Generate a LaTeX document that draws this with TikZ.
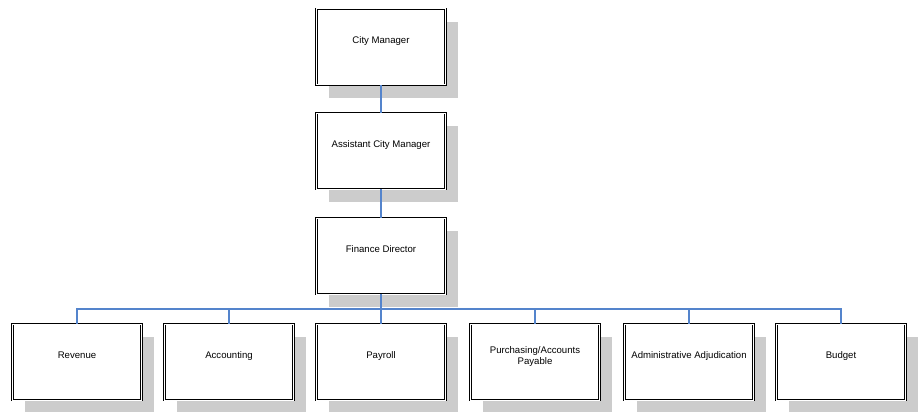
\documentclass[tikz,border=0pt]{standalone}
\usepackage{fontspec}
\setmainfont{Liberation Sans}
\usetikzlibrary{shadows}
\definecolor{linkblue}{RGB}{84,132,204}
\tikzset{
	post/.style={draw=black, double=white, double distance=1pt, line width=0.8pt,
		fill=white, minimum width=129pt, minimum height=76pt, align=center,
		text depth=13pt, font=\fontsize{9.6}{11.5}\selectfont,
		drop shadow={shadow xshift=12pt, shadow yshift=-13pt, fill=black!20, opacity=1}},
	link/.style={color=linkblue, line width=1.1pt}
}

\begin{document}
\begin{tikzpicture}[x=1pt, y=-1pt]
			%%%%% START %%%%%
			\useasboundingbox (0, 0) rectangle (919, 412);
			
			\node[post] (cm) at (381, 47) {City Manager};
			\node[post] (acm) at (381, 151) {Assistant City Manager};
			\node[post] (fd) at (381, 256) {Finance Director};
			
			\node[post] (rev) at (77, 362) {Revenue};
			\node[post] (acc) at (229, 362) {Accounting};
			\node[post] (pay) at (381, 362) {Payroll};
			\node[post] (pur) at (535, 362) {Purchasing/Accounts\\Payable};
			\node[post] (adj) at (689, 362) {Administrative Adjudication};
			\node[post] (bud) at (841, 362) {Budget};
			
			\draw[link] (cm) -- (acm);
			\draw[link] (acm) -- (fd);
			\coordinate (bus) at (381, 309);
			\foreach \n in {rev, acc, pay, pur, adj, bud}
				\draw[link] (fd.south) -- (bus) -| (\n.north);
			
			%%%%% END %%%%%
		\end{tikzpicture}
\end{document}
